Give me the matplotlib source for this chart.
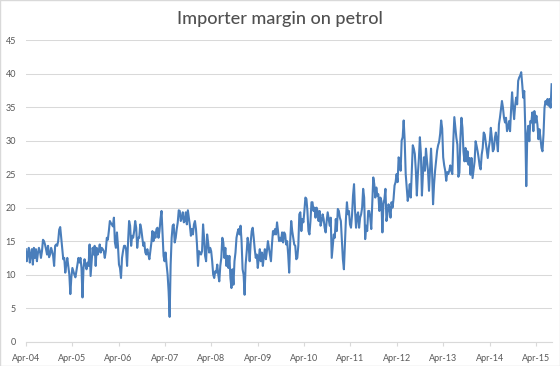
import pandas as pd
import matplotlib
matplotlib.use("Agg")
import matplotlib.pyplot as plt
import matplotlib.dates as mdates
from matplotlib.patches import Rectangle

# weekly importer margin readings, split by period
margin_2004_05 = [13.8, 12, 13.2, 14, 11.8, 13, 13.8, 11.5, 14, 12.5, 13.8, 12, 13.2, 14, 13.5,
                  12.5, 13.5, 15.2, 15, 14.5, 13.8, 13, 14.3, 12.6, 13, 14, 13.5, 12.8, 11.3,
                  14.3, 14.5, 14.3, 15, 16.7, 17.1, 15.5, 14, 12.3, 12.5, 10.3, 11.5, 12.5, 11.3,
                  10, 7.1, 9.6, 11, 10.5, 10, 9.6]
margin_2005_06 = [10.5, 11.5, 12.5, 11.8, 12.5, 11, 6.6, 11, 12.3, 11.5, 10.8, 11.8, 11.3, 14.5,
                  9.8, 12, 14, 13, 14.3, 11.3, 14, 13, 13.5, 14.5, 13.3, 14, 13.8, 13.5, 12.5,
                  13.5, 15.5, 15.2, 16.5, 18, 17.7, 17.5, 17.2]
margin_2006_08 = [18.5, 14.8, 14, 16.3, 14.3, 11.5, 11, 9.5, 12.5, 13.5, 14.3, 14.3, 13.8, 11.3,
                  15, 18, 17.3, 14.3, 15.8, 15.5, 16.5, 18, 17, 14, 15.5, 15.5, 17.5, 16.8, 15.5,
                  14.3, 14.8, 13.3, 13, 13.8, 13, 12.3, 13.5, 14.8, 16.5, 15, 16.3, 15.5, 16.8,
                  17, 15.5, 16.5, 18.3, 19.5, 16.3, 12.8, 12, 13.3, 11.5, 10, 7.5, 3.7, 11.5,
                  15.5, 17.3, 17.5, 14.8, 15.5, 16.8, 17.8, 19.6, 19.5, 18, 18.5, 19.3, 17.8, 18,
                  19.3, 17.5, 19.6, 18.5, 17.3, 15.8, 16.8, 16, 17.5, 18, 16.8, 14.5, 11.3, 13.5]
margin_2008_09 = [13.3, 13, 13.5, 17.5, 15.5, 12.8, 12, 16, 14.8, 13.3, 14, 13.5, 12, 10, 9.5,
                  10.5, 10.3, 11.5, 10, 9, 11.3, 12.5, 15.5, 14.8, 12.5, 14, 11.3, 12.8, 11, 12.8,
                  9.5, 8, 10.8, 8.5, 12, 13.3, 15.5, 16.3, 16.8, 16, 17.3, 15, 10.8, 10, 7, 11.5,
                  13.3, 15.5, 14.3, 12, 14.8, 16.5, 17, 15.5, 13.8, 12.5, 13, 11, 12.5, 13.8, 12,
                  13.3, 11.3, 12.8, 13.8, 12.3, 13.5, 15, 14, 13, 12, 14.5, 16.5, 16, 16.8, 16,
                  17.8, 16.5, 15, 15.5, 15, 16.3, 14.8, 16.3]
margin_2010_11 = [16, 14.5, 15, 13, 10.3, 15, 18, 16.5, 15.5, 14.5, 14.3, 12.3, 12.5, 14.3, 19,
                  19.3, 16.5, 18.3, 17.8, 19.5, 21.5, 21.3, 19.5, 16.5, 16, 18, 20.8, 20.8, 19.5,
                  20, 18.5, 20, 19.5, 18, 19.5, 17.3, 18, 19, 18.3, 17, 16.3, 18, 19.3, 18.3,
                  17.3, 18.5, 12.5, 14.3, 16, 15.5, 18.3, 16.5, 19.8, 19.5, 18.5, 18, 15, 12.3,
                  10.8, 14.5, 18.3, 20.8, 19, 19.5, 17.5, 17, 18.8, 21.8, 23.5, 19.5, 17, 18.8,
                  19.3, 17, 18.5, 19, 20, 22.8, 21.5, 15.3, 17.3, 16.5, 19.5, 19.5]
margin_2011_13 = [18.5, 16.8, 20.5, 24.5, 23.5, 21.5, 23, 21.8, 22, 19.5, 21.5, 21, 16.3, 20.5,
                  21.3, 22.8, 18, 19, 20.5, 20, 18.5, 20.8, 20, 21.3, 23.3, 23.8, 25, 23.8, 27.5,
                  27, 25.5, 30, 30.5, 33, 30, 25, 23, 21, 22, 23.5, 21.5, 25.5, 29.3, 28.8, 28,
                  25.5, 21.8, 25, 27.3, 30.5, 28, 21.8, 25, 27.5, 25.5, 28.8, 27, 25.5, 22.5,
                  25.5, 28.8, 25.5, 20.5, 23.5, 25.5, 27, 28.5, 29.3, 29.8, 31, 33, 31.8, 27.5,
                  26.3, 25.5, 24, 25.3, 25, 25.5, 26.3, 25.5, 25, 30, 33.5]
margin_2013_15 = [31.9, 30.4, 29.4, 24.6, 25.2, 30.4, 33.4, 31.9, 28.4, 26.9, 28.9, 26.9, 28.4,
                  26.4, 27.4, 24.9, 27.4, 24.4, 25.7, 26.9, 29.9, 29.2, 28.4, 27.4, 26.2, 25.7,
                  27.9, 28.9, 31.2, 30.9, 29.7, 28.4, 27.4, 28.9, 29.9, 31.9, 30.4, 28.4, 28.7,
                  30.4, 31.2, 29.9, 28.4, 32.4, 33.4, 34.6, 35.9, 34.9, 33.4, 32.7, 33.4, 31.4,
                  31.9, 32.9, 31.4, 34.6, 37.2, 34.9, 33.2, 35.2, 36.4, 35.4, 38.9, 39.4, 39.7,
                  40.2, 38.4, 36.4, 37.4, 31.9, 23.2, 30.9, 32.2, 29.9, 32.9, 32.7, 34.2, 31.4,
                  34.4, 32.7, 33.7, 32.4, 30.2, 31.7, 30.4, 28.9, 28.4, 30.9, 34.9, 35.9, 35.4,
                  36.2, 35.2, 36.2, 34.9, 38.4]

margin = (margin_2004_05 + margin_2005_06 + margin_2006_08 + margin_2008_09
          + margin_2010_11 + margin_2011_13 + margin_2013_15)
weeks = pd.date_range("2004-04-01", "2015-08-01", periods=len(margin))
tick_dates = pd.date_range("2004-04-01", "2015-04-01", freq="12MS")

plt.rcParams["font.family"] = ["Lato", "DejaVu Sans"]
grey = "#595959"

fig = plt.figure(figsize=(5.6, 3.66), dpi=100)
ax = fig.add_axes([0.046, 0.0664, 0.939, 0.8243])
ax.plot(weeks, margin, color="#4A7EBB", lw=1.5)

ax.set_ylim(0, 45)
ax.set_yticks(range(0, 46, 5))
ax.set_xlim(weeks[0], weeks[-1])
ax.set_xticks(tick_dates)
ax.xaxis.set_major_formatter(mdates.DateFormatter("%b-%y"))

ax.grid(axis="y", color="#D9D9D9", lw=0.75)
ax.set_axisbelow(True)
for side in ["top", "right", "left"]:
    ax.spines[side].set_visible(False)
ax.spines["bottom"].set_color("#D9D9D9")
ax.tick_params(axis="y", length=0, pad=7, labelsize=6.5, labelcolor=grey)
ax.tick_params(axis="x", length=3, color="#D9D9D9", pad=5.5, labelsize=6.5, labelcolor=grey)

fig.text(0.5, 0.948, "Importer margin on petrol", ha="center", va="center",
         fontsize=13, fontweight="medium", color="#505050")
fig.patches.append(Rectangle((0, 0), 1, 1, transform=fig.transFigure, fill=False,
                             edgecolor="#D9D9D9", lw=1))

fig.savefig("out.png", dpi=100)
